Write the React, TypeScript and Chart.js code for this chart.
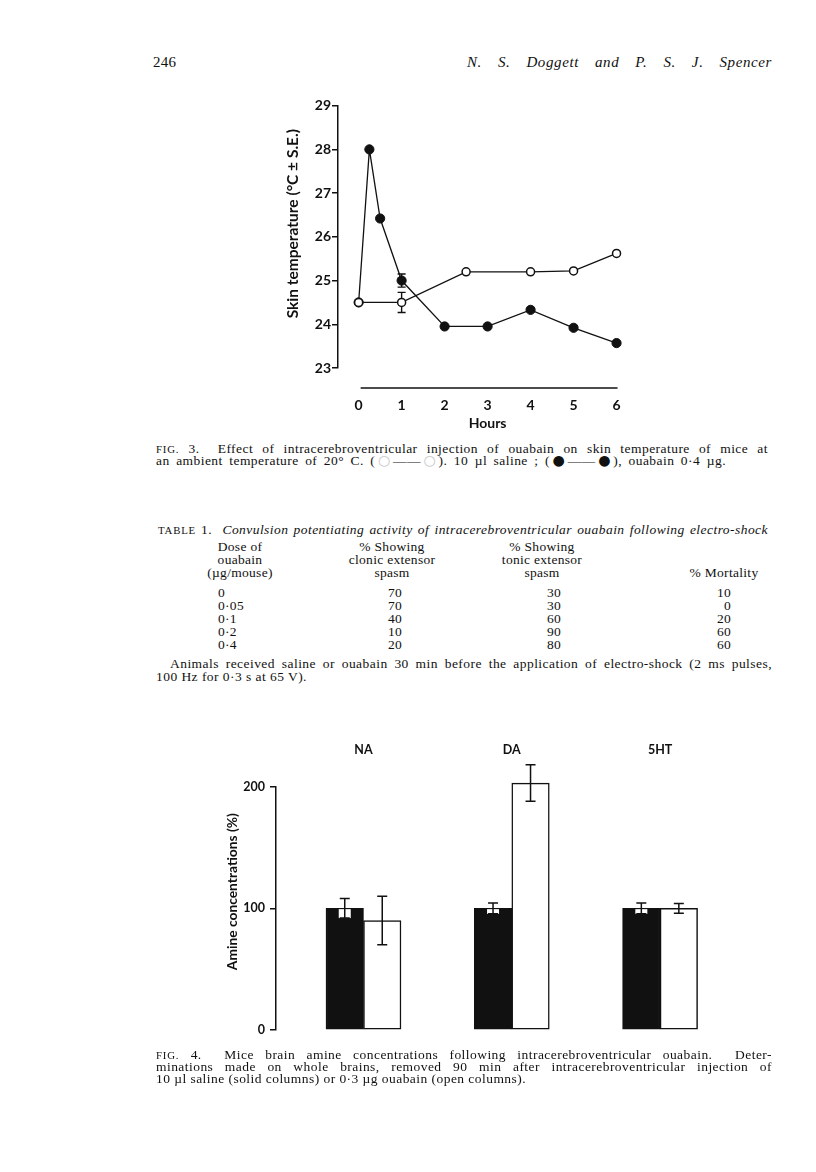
import React, { useEffect, useRef } from "react";
import { Chart, registerables } from "chart.js";

Chart.register(...registerables);

// ---------- Fig. 3 : skin temperature ----------
const HOUR_TICKS = [0, 1, 2, 3, 4, 5, 6];
const TEMP_TICKS = [23, 24, 25, 26, 27, 28, 29];
const SALINE_HOURS = [0, 1, 2.5, 4, 5, 6];
const SALINE_TEMP = [24.5, 24.5, 25.2, 25.2, 25.22, 25.62];
const SALINE_SE = [0, 0.23, 0, 0, 0, 0];
const OUABAIN_HOURS = [0, 0.25, 0.5, 1, 2, 3, 4, 5, 6];
const OUABAIN_TEMP = [24.5, 28.0, 26.42, 25.0, 23.95, 23.95, 24.33, 23.92, 23.57];
const OUABAIN_SE = [0, 0, 0, 0.15, 0, 0, 0, 0, 0];

// ---------- Fig. 4 : brain amines ----------
const AMINES = ["NA", "DA", "5HT"];
const AMINE_TICKS = [0, 100, 200];
const SALINE_AMINE = [100, 100, 100];
const SALINE_AMINE_SE = [8, 4.5, 4.5];
const OUABAIN_AMINE = [90, 203, 100];
const OUABAIN_AMINE_SE = [20, 15, 4];

// ---------- Table 1 ----------
const DOSES = ["0", "0·05", "0·1", "0·2", "0·4"];
const CLONIC = [70, 70, 40, 10, 20];
const TONIC = [30, 30, 60, 90, 80];
const MORTALITY = [10, 0, 20, 60, 60];

const INK = "#111";
const SANS = "Lato, 'Open Sans', sans-serif";
const SERIF = "'Liberation Serif', 'Times New Roman', serif";

function errorBar(ctx: CanvasRenderingContext2D, x: number, yTop: number, yBot: number, cap: number) {
  ctx.beginPath();
  ctx.moveTo(x, yTop);
  ctx.lineTo(x, yBot);
  ctx.moveTo(x - cap / 2, yTop);
  ctx.lineTo(x + cap / 2, yTop);
  ctx.moveTo(x - cap / 2, yBot);
  ctx.lineTo(x + cap / 2, yBot);
  ctx.stroke();
}

const fig3Decor = {
  id: "fig3Decor",
  beforeDatasetsDraw(chart: any) {
    const { ctx, scales } = chart;
    const xs = scales.x, ys = scales.y;
    ctx.save();
    ctx.strokeStyle = INK;
    ctx.lineWidth = 1.4;
    const sets = [
      [SALINE_HOURS, SALINE_TEMP, SALINE_SE],
      [OUABAIN_HOURS, OUABAIN_TEMP, OUABAIN_SE],
    ];
    sets.forEach(([hs, vs, se]) => {
      hs.forEach((h: number, i: number) => {
        if (!se[i]) return;
        errorBar(ctx, xs.getPixelForValue(h), ys.getPixelForValue(vs[i] + se[i]), ys.getPixelForValue(vs[i] - se[i]), 8);
      });
    });
    ctx.restore();
  },
  afterDraw(chart: any) {
    const { ctx, scales, chartArea } = chart;
    const xs = scales.x;
    ctx.save();
    ctx.strokeStyle = INK;
    ctx.lineWidth = 1.5;
    const yLine = chartArea.bottom + 20;
    ctx.beginPath();
    ctx.moveTo(xs.getPixelForValue(HOUR_TICKS[0]) + 2, yLine);
    ctx.lineTo(xs.getPixelForValue(HOUR_TICKS[HOUR_TICKS.length - 1]) + 1, yLine);
    ctx.stroke();
    ctx.fillStyle = INK;
    ctx.textAlign = "center";
    ctx.textBaseline = "middle";
    ctx.font = `bold 14px ${SANS}`;
    ctx.fillText("Hours", xs.getPixelForValue(3), chartArea.bottom + 55);
    ctx.translate(chartArea.left - 45, chartArea.top + 118);
    ctx.rotate(-Math.PI / 2);
    ctx.font = `bold 15.5px ${SANS}`;
    ctx.fillText("Skin temperature (°C ± S.E.)", 0, 0);
    ctx.restore();
  },
};

const fig4Decor = {
  id: "fig4Decor",
  afterDatasetsDraw(chart: any) {
    const { ctx, scales } = chart;
    const ys = scales.y;
    ctx.save();
    const sets = [
      [SALINE_AMINE, SALINE_AMINE_SE, true],
      [OUABAIN_AMINE, OUABAIN_AMINE_SE, false],
    ] as const;
    sets.forEach(([vals, se, solid], d) => {
      const meta = chart.getDatasetMeta(d);
      vals.forEach((v: number, i: number) => {
        const x = meta.data[i].x;
        const yTop = ys.getPixelForValue(v + se[i]);
        const yBot = ys.getPixelForValue(v - se[i]);
        if (solid) {
          ctx.fillStyle = "#fff";
          ctx.fillRect(x - 6, ys.getPixelForValue(v) + 0.8, 12, yBot - ys.getPixelForValue(v) - 0.8);
        }
        ctx.strokeStyle = INK;
        ctx.lineWidth = 1.5;
        errorBar(ctx, x, yTop, yBot, 10);
      });
    });
    ctx.restore();
  },
  afterDraw(chart: any) {
    const { ctx, chartArea } = chart;
    ctx.save();
    ctx.fillStyle = INK;
    ctx.textAlign = "center";
    ctx.textBaseline = "middle";
    ctx.translate(chartArea.left - 43, chartArea.top + 105);
    ctx.rotate(-Math.PI / 2);
    ctx.font = `bold 13.8px ${SANS}`;
    ctx.fillText("Amine concentrations (%)", 0, 0);
    ctx.restore();
  },
};

function fig3Config(): any {
  const tickFont = { family: SANS, size: 14, weight: "bold" as const };
  return {
    type: "line",
    data: {
      datasets: [
        {
          label: "10 µl saline",
          data: SALINE_HOURS.map((h, i) => ({ x: h, y: SALINE_TEMP[i] })),
          borderColor: INK,
          borderWidth: 1.3,
          pointRadius: 4,
          pointBackgroundColor: "#fff",
          pointBorderColor: INK,
          pointBorderWidth: 1.5,
          tension: 0,
          clip: false,
        },
        {
          label: "ouabain 0·4 µg",
          data: OUABAIN_HOURS.map((h, i) => ({ x: h, y: OUABAIN_TEMP[i] })),
          borderColor: INK,
          borderWidth: 1.3,
          pointRadius: 4.6,
          pointBackgroundColor: INK,
          pointBorderColor: INK,
          pointBorderWidth: 1,
          tension: 0,
          clip: false,
        },
      ],
    },
    options: {
      responsive: false,
      animation: false,
      events: [],
      layout: { padding: { left: 0, top: 15.7, right: 27.3, bottom: 0 } },
      plugins: { legend: { display: false }, tooltip: { enabled: false } },
      scales: {
        x: {
          type: "linear",
          min: -0.48,
          max: 6,
          afterBuildTicks: (s: any) => {
            s.ticks = HOUR_TICKS.map((v) => ({ value: v }));
          },
          afterFit: (s: any) => {
            s.height = 72;
          },
          grid: { display: false, drawTicks: false },
          border: { display: false },
          ticks: { padding: 29.4, color: INK, font: tickFont },
        },
        y: {
          min: 23,
          max: 29,
          afterBuildTicks: (s: any) => {
            s.ticks = TEMP_TICKS.map((v) => ({ value: v }));
          },
          afterFit: (s: any) => {
            s.width = 88;
          },
          grid: { drawOnChartArea: false, tickLength: 6, color: INK, lineWidth: 1.5 },
          border: { color: INK, width: 1.5 },
          ticks: { padding: 1, color: INK, font: tickFont },
        },
      },
    },
    plugins: [fig3Decor],
  };
}

function fig4Config(): any {
  const tickFont = { family: SANS, size: 12.5, weight: "bold" as const };
  return {
    type: "bar",
    data: {
      datasets: [
        {
          label: "saline (solid columns)",
          data: AMINES.map((_, i) => ({ x: i + 1, y: SALINE_AMINE[i] })),
          backgroundColor: INK,
          borderColor: INK,
          borderWidth: 1.5,
          borderSkipped: false,
          barThickness: 37.5,
          clip: false,
        },
        {
          label: "ouabain (open columns)",
          data: AMINES.map((_, i) => ({ x: i + 1, y: OUABAIN_AMINE[i] })),
          backgroundColor: "#fff",
          borderColor: INK,
          borderWidth: 1.5,
          borderSkipped: false,
          barThickness: 37.5,
          clip: false,
        },
      ],
    },
    options: {
      responsive: false,
      animation: false,
      events: [],
      layout: { padding: { left: 0, top: 0, right: 40.6, bottom: 20 } },
      plugins: { legend: { display: false }, tooltip: { enabled: false } },
      scales: {
        x: {
          type: "linear",
          position: "top",
          offset: false,
          min: 0.41,
          max: 3.4,
          afterBuildTicks: (s: any) => {
            s.ticks = AMINES.map((_, i) => ({ value: i + 1 }));
          },
          afterFit: (s: any) => {
            s.height = 46.7;
          },
          grid: { display: false, drawTicks: false, offset: false },
          border: { display: false },
          ticks: {
            padding: 29.3,
            color: INK,
            font: tickFont,
            callback: (v: number) => AMINES[Math.round(v) - 1],
          },
        },
        y: {
          min: 0,
          max: 200,
          afterBuildTicks: (s: any) => {
            s.ticks = AMINE_TICKS.map((v) => ({ value: v }));
          },
          afterFit: (s: any) => {
            s.width = 76;
          },
          grid: { drawOnChartArea: false, tickLength: 6, color: INK, lineWidth: 1.5 },
          border: { color: INK, width: 1.5 },
          ticks: { padding: 5, color: INK, font: tickFont },
        },
      },
    },
    plugins: [fig4Decor],
  };
}

// page coordinates -> root coordinates (body margin 8px)
const P = (v: number) => v - 8;

type LineProps = {
  x: number;
  baseline: number;
  width?: number;
  size?: number;
  justify?: boolean;
  italic?: boolean;
  align?: "left" | "center" | "right";
  spacing?: number;
  children: React.ReactNode;
};

function TextLine({ x, baseline, width, size = 13, justify = true, italic, align = "left", spacing = 0.3, children }: LineProps) {
  const a = justify ? "justify" : align;
  return (
    <div
      style={{
        position: "absolute",
        left: P(x),
        top: P(baseline - 0.8375 * size),
        width: width ?? "auto",
        fontSize: size,
        lineHeight: `${size}px`,
        fontFamily: SERIF,
        fontStyle: italic ? "italic" : "normal",
        textAlign: a as any,
        textAlignLast: a as any,
        letterSpacing: spacing,
        color: INK,
        whiteSpace: justify ? "normal" : "nowrap",
      }}
    >
      {children}
    </div>
  );
}

function Cell({ cx, baseline, align = "center", children }: { cx: number; baseline: number; align?: "left" | "center" | "right"; children: React.ReactNode }) {
  const w = 200;
  const left = align === "center" ? cx - w / 2 : align === "right" ? cx - w : cx;
  return (
    <TextLine x={left} baseline={baseline} width={w} justify={false} align={align} size={13.5}>
      {children}
    </TextLine>
  );
}

const SC = ({ children }: { children: React.ReactNode }) => (
  <span style={{ fontSize: "0.8em", letterSpacing: 0.8 }}>{children}</span>
);
const Faint = ({ children }: { children: React.ReactNode }) => <span style={{ color: "#c8c8c8" }}>{children}</span>;
const Dot = () => <span style={{ fontFamily: "'DejaVu Sans', sans-serif", fontSize: "1.05em", letterSpacing: 0 }}>●</span>;
const Ring = () => (
  <span style={{ fontFamily: "'DejaVu Sans', sans-serif", fontSize: "1.05em", letterSpacing: 0, color: "#c8c8c8" }}>○</span>
);

const BODY = 13.5;
const HEAD_BASE = [551, 564, 577];
const ROW_BASE = [597, 610, 623, 636, 649];

export default function App() {
  const c3 = useRef<HTMLCanvasElement>(null);
  const c4 = useRef<HTMLCanvasElement>(null);

  useEffect(() => {
    const ch3 = new Chart(c3.current as HTMLCanvasElement, fig3Config());
    const ch4 = new Chart(c4.current as HTMLCanvasElement, fig4Config());
    return () => {
      ch3.destroy();
      ch4.destroy();
    };
  }, []);

  return (
    <div style={{ position: "relative", width: 800, height: 1164, background: "#fff", overflow: "hidden" }}>
      {/* running head */}
      <TextLine x={153} baseline={68} size={15} justify={false}>246</TextLine>
      <TextLine x={467} baseline={68} size={15} width={305} italic spacing={0.6}>
        N. S. Doggett and P. S. J. Spencer
      </TextLine>

      {/* Fig. 3 */}
      <canvas ref={c3} width={400} height={350} style={{ position: "absolute", left: P(250), top: P(90) }} />
      <TextLine x={156} baseline={453} width={612} size={BODY} spacing={0.45}>
        <SC>FIG.</SC> 3.&nbsp; Effect of intracerebroventricular injection of ouabain on skin temperature of mice at
      </TextLine>
      <TextLine x={156} baseline={465} width={570} size={BODY} spacing={0.45}>
        an ambient temperature of 20° C. (<Ring />——<Ring />). 10 µl saline ; (<Dot />——<Dot />), ouabain 0·4 µg.
      </TextLine>

      {/* Table 1 */}
      <TextLine x={158} baseline={534} width={610} size={BODY} spacing={0.45}>
        <SC>TABLE</SC> 1.&nbsp; <i>Convulsion potentiating activity of intracerebroventricular ouabain following electro-shock</i>
      </TextLine>
      <Cell cx={240} baseline={HEAD_BASE[0]}>Dose of</Cell>
      <Cell cx={240} baseline={HEAD_BASE[1]}>ouabain</Cell>
      <Cell cx={240} baseline={HEAD_BASE[2]}>(µg/mouse)</Cell>
      <Cell cx={392} baseline={HEAD_BASE[0]}>% Showing</Cell>
      <Cell cx={392} baseline={HEAD_BASE[1]}>clonic extensor</Cell>
      <Cell cx={392} baseline={HEAD_BASE[2]}>spasm</Cell>
      <Cell cx={542} baseline={HEAD_BASE[0]}>% Showing</Cell>
      <Cell cx={542} baseline={HEAD_BASE[1]}>tonic extensor</Cell>
      <Cell cx={542} baseline={HEAD_BASE[2]}>spasm</Cell>
      <Cell cx={724} baseline={HEAD_BASE[2]}>% Mortality</Cell>
      {DOSES.map((d, i) => (
        <React.Fragment key={d}>
          <Cell cx={218} baseline={ROW_BASE[i]} align="left">{d}</Cell>
          <Cell cx={395} baseline={ROW_BASE[i]}>{CLONIC[i]}</Cell>
          <Cell cx={554} baseline={ROW_BASE[i]}>{TONIC[i]}</Cell>
          <Cell cx={731} baseline={ROW_BASE[i]} align="right">{MORTALITY[i]}</Cell>
        </React.Fragment>
      ))}
      <TextLine x={170} baseline={668.5} width={602} size={BODY} spacing={0.45}>
        Animals received saline or ouabain 30 min before the application of electro-shock (2 ms pulses,
      </TextLine>
      <TextLine x={156} baseline={681.5} justify={false} size={BODY} spacing={0.45}>
        100 Hz for 0·3 s at 65 V).
      </TextLine>

      {/* Fig. 4 */}
      <canvas ref={c4} width={560} height={310} style={{ position: "absolute", left: P(200), top: P(740) }} />
      <TextLine x={156} baseline={1059.5} width={616} size={BODY} spacing={0.45}>
        <SC>FIG.</SC> 4.&nbsp; Mice brain amine concentrations following intracerebroventricular ouabain.&nbsp; Deter-
      </TextLine>
      <TextLine x={156} baseline={1071.5} width={616} size={BODY} spacing={0.45}>
        minations made on whole brains, removed 90 min after intracerebroventricular injection of
      </TextLine>
      <TextLine x={156} baseline={1083} justify={false} size={BODY} spacing={0.45}>
        10 µl saline (solid columns) or 0·3 µg ouabain (open columns).
      </TextLine>
    </div>
  );
}
